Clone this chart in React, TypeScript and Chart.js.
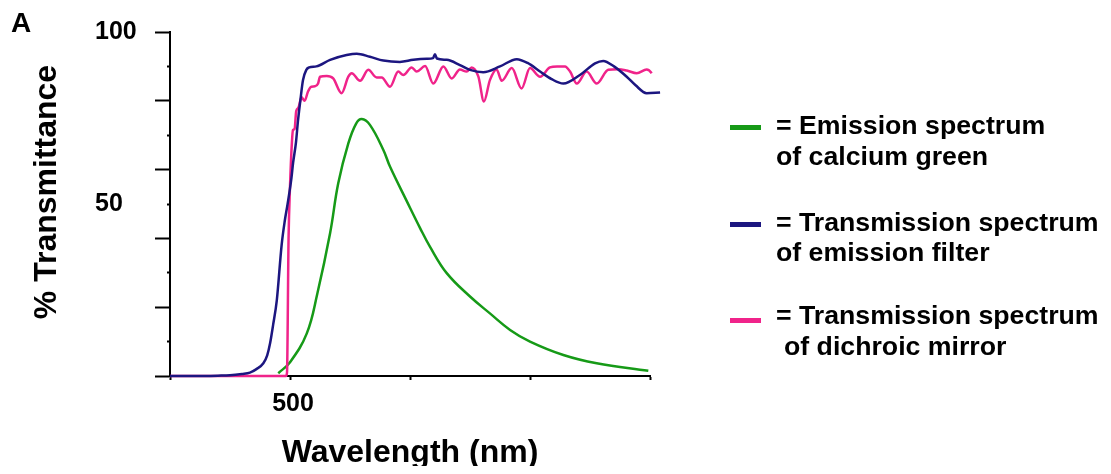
import React, { useEffect, useRef } from 'react';
import { Chart, registerables } from 'chart.js';

Chart.register(...registerables);

// ---- data (wavelength in nm, transmittance / intensity in %) ----
const emissionNm = [495.1, 500, 507, 511.4, 516.7, 520.1, 524.3, 527.5, 529.9, 533.3, 538.9, 541.7, 548.6, 554.2, 558.3, 565.3, 575, 583.3, 591.7, 600, 613.9, 627.8, 649.3];
const emissionVal = [0.8, 4, 12.4, 24, 41.5, 56, 67.6, 73.3, 74.7, 73, 65.7, 60.8, 50.9, 43, 37.6, 29.9, 23.1, 18.2, 13.4, 10, 6.1, 3.7, 1.5];

const filterNm = [450, 460, 470, 475, 480, 483.3, 486, 488.9, 490.5, 491.7, 493, 494.5, 496.5, 497.8, 499, 500.5, 501.3, 502.5, 503.3, 504.3, 505.4, 506.8, 508, 511, 516.7, 523.6, 527.8, 533.3, 538.9, 545.8, 551.4, 557, 559.6, 560.4, 561.2, 565.3, 570.8, 575, 580.5, 587.5, 594.5, 599, 604.2, 609, 613.9, 620.8, 627.1, 630.5, 635, 640.3, 644, 648.6, 654.2];
const filterVal = [0, 0, 0.1, 0.2, 0.6, 1, 2, 3.7, 6, 9.5, 15, 22, 38, 45, 50, 57, 62, 68, 74, 80, 86, 89, 89.7, 90, 91.9, 93.3, 93.7, 92.8, 91.7, 91.3, 91.9, 92.2, 92.4, 93.5, 92.3, 91.9, 90.4, 89, 88.3, 90, 92.1, 91, 88.5, 86.3, 85, 87.5, 90.9, 91.6, 90, 87, 84.5, 82.2, 82.4];

const mirrorNm = [450, 498.3, 498.75, 499.4, 500, 500.8, 501.25, 501.9, 502.6, 503.5, 504.8, 506.1, 507.5, 508.9, 510.4, 511.7, 512.5, 515.3, 518, 521.5, 524.3, 525.7, 529.2, 532.6, 536.1, 538.2, 541.7, 545.1, 547.2, 550.7, 552.8, 556.3, 559.7, 563.9, 567.4, 570.8, 573.6, 575.7, 578.5, 580.8, 583.3, 586.1, 588.2, 592.4, 596.5, 600, 604.2, 608.3, 611.3, 614.6, 616.7, 619.5, 623.6, 627.8, 632.6, 636.8, 640.3, 644.5, 648.6, 650.7, 654.2];
const mirrorVal = [0, 0, 1, 40, 55, 68, 71.5, 71.8, 77, 78, 81, 80, 82.7, 84.1, 84.2, 85, 87, 87.2, 86.5, 82.2, 87, 88, 85.8, 89, 86.8, 86.8, 84.1, 88.5, 87.5, 89.7, 88.5, 90.1, 85, 90, 86.5, 89.1, 88.5, 89.7, 87, 79.8, 86, 89.1, 85.8, 89.5, 83.6, 89.5, 87, 89.7, 90, 90, 88.5, 85, 88.5, 85, 89, 89.2, 88.8, 88, 89.1, 88, 82.7];

const xTickLabels = ['500'];
const yTickLabels = ['100', '50'];
const xTitle = 'Wavelength (nm)';
const yTitle = '% Transmittance';
const panelLabel = 'A';

const GREEN = '#169a17';
const NAVY = '#1c1680';
const PINK = '#f0238a';

const legendItems = [
  { color: GREEN, lines: ['= Emission spectrum', 'of calcium green'] },
  { color: NAVY, lines: ['= Transmission spectrum', 'of emission filter'] },
  { color: PINK, lines: ['= Transmission spectrum', 'of dichroic mirror'] },
];

const FONT = '"Liberation Sans", Arial, Helvetica, sans-serif';

const toPoints = (xs: number[], ys: number[]) => xs.map((x, i) => ({ x, y: ys[i] }));

export default function App() {
  const canvasRef = useRef<HTMLCanvasElement | null>(null);

  useEffect(() => {
    if (!canvasRef.current) return;
    const shiftTitle = {
      id: 'shiftTitle',
      afterLayout(chart: any) {
        const s = chart.scales.yT;
        if (s) {
          s.top -= 12;
          s.bottom -= 12;
        }
      },
    };
    const chart = new Chart(canvasRef.current, {
      type: 'line',
      data: {
        datasets: [
          {
            label: 'Transmission spectrum of emission filter',
            data: toPoints(filterNm, filterVal),
            borderColor: NAVY,
            borderWidth: 2.5,
            pointRadius: 0,
            cubicInterpolationMode: 'monotone',
            clip: false,
            order: 0,
          },
          {
            label: 'Transmission spectrum of dichroic mirror',
            data: toPoints(mirrorNm, mirrorVal),
            borderColor: PINK,
            borderWidth: 2.5,
            pointRadius: 0,
            cubicInterpolationMode: 'monotone',
            clip: false,
            order: 1,
          },
          {
            label: 'Emission spectrum of calcium green',
            data: toPoints(emissionNm, emissionVal),
            borderColor: GREEN,
            borderWidth: 2.5,
            pointRadius: 0,
            tension: 0.4,
            clip: false,
            order: 2,
          },
        ],
      },
      options: {
        animation: false,
        responsive: false,
        maintainAspectRatio: false,
        layout: { padding: { left: 28, right: 461, top: 32, bottom: 2 } },
        plugins: { legend: { display: false }, tooltip: { enabled: false } },
        scales: {
          x: {
            type: 'linear',
            position: 'bottom',
            min: 450,
            max: 650,
            ticks: {
              stepSize: 50,
              autoSkip: false,
              maxRotation: 0,
              padding: 9,
              labelOffset: 3,
              color: '#000',
              font: { family: FONT, size: 25, weight: 'bold' },
              callback: (v: any) => (xTickLabels.includes(String(v)) ? String(v) : ''),
            },
            grid: { drawOnChartArea: false, drawTicks: true, tickLength: 4, tickColor: '#000', tickWidth: 2 },
            border: { display: true, color: '#000', width: 2 },
            title: { display: true, text: xTitle, color: '#000', padding: 0, font: { family: FONT, size: 32, weight: 'bold' } },
            afterFit: (s: any) => { s.height = 96; },
          },
          y: {
            type: 'linear',
            position: 'left',
            weight: 0,
            min: 0,
            max: 100,
            ticks: {
              stepSize: 10,
              autoSkip: false,
              crossAlign: 'far',
              color: '#000',
              font: { family: FONT, size: 25, weight: 'bold' },
              callback: (v: any) => (yTickLabels.includes(String(v)) ? String(v) : ''),
            },
            grid: {
              drawOnChartArea: false,
              drawTicks: true,
              tickLength: 15,
              tickWidth: 2,
              tickColor: (ctx: any) => (ctx.tick && ctx.tick.value % 20 === 0 ? '#000' : 'rgba(0,0,0,0)'),
            },
            border: { display: true, color: '#000', width: 2 },
            afterFit: (s: any) => { s.width = 75; },
          },
          yT: {
            type: 'linear',
            axis: 'y',
            position: 'left',
            weight: 10,
            ticks: { display: false },
            grid: { display: false },
            border: { display: false },
            title: { display: true, text: yTitle, color: '#000', padding: 0, font: { family: FONT, size: 32, weight: 'bold' } },
            afterFit: (s: any) => { s.width = 67; },
          },
          y2: {
            type: 'linear',
            axis: 'y',
            position: { x: 450 },
            min: 0,
            max: 100,
            ticks: { display: false, stepSize: 10 },
            grid: {
              drawOnChartArea: false,
              drawTicks: true,
              tickLength: 3,
              tickWidth: 2,
              tickColor: (ctx: any) => (ctx.tick && ctx.tick.value % 20 !== 0 ? '#000' : 'rgba(0,0,0,0)'),
            },
            border: { display: false },
          },
        },
      } as any,
      plugins: [shiftTitle],
    } as any);
    return () => chart.destroy();
  }, []);

  const lineFirst = [125, 221.5, 315];
  const markerY = [127.5, 224, 320];

  return (
    <div style={{ margin: -8, width: 1111, height: 474, position: 'relative', overflow: 'hidden', background: '#fff', fontFamily: FONT }}>
      <canvas ref={canvasRef} width={1111} height={474} style={{ display: 'block', position: 'absolute', left: 0, top: 0 }} />
      <div style={{ position: 'absolute', left: 11, top: 8, fontSize: 28, fontWeight: 'bold', lineHeight: '30px', color: '#000' }}>{panelLabel}</div>
      {legendItems.map((item, i) => (
        <React.Fragment key={i}>
          <div style={{ position: 'absolute', left: 730, top: markerY[i] - 2.5, width: 31, height: 5, background: item.color }} />
          {item.lines.map((t, j) => (
            <div
              key={j}
              style={{
                position: 'absolute',
                left: 776 + (i === 2 && j === 1 ? 8 : 0),
                top: lineFirst[i] + j * 30.5 - 15,
                fontSize: 26.7,
                fontWeight: 'bold',
                lineHeight: '30px',
                color: '#000',
                whiteSpace: 'nowrap',
              }}
            >
              {t}
            </div>
          ))}
        </React.Fragment>
      ))}
    </div>
  );
}
